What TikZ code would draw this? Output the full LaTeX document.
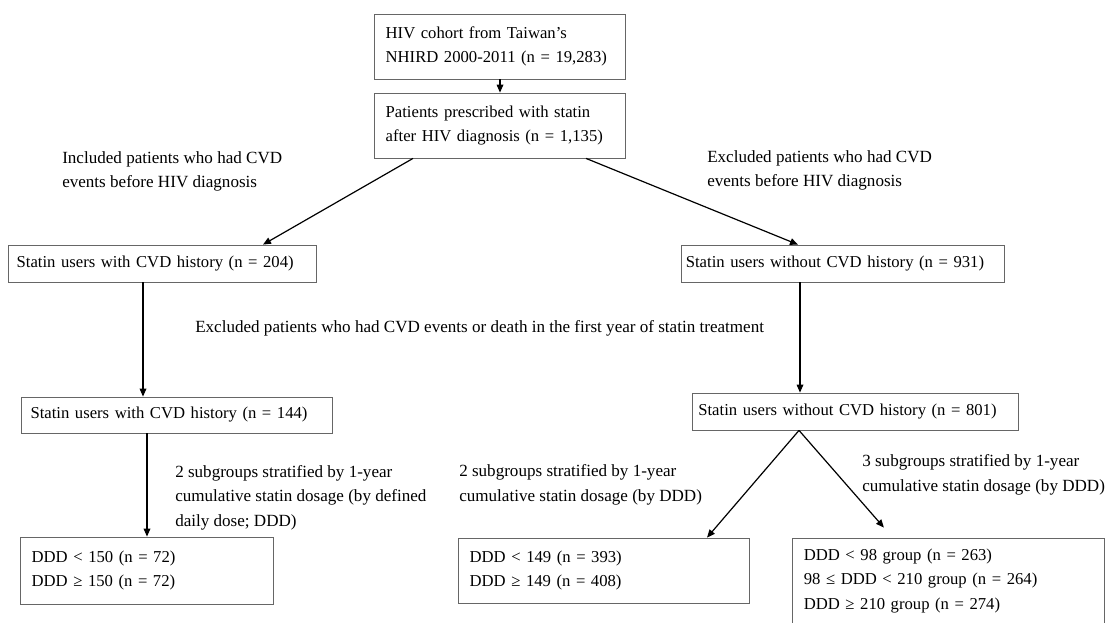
\documentclass[tikz,border=0pt]{standalone}
\usepackage{fontspec}
\setmainfont{Liberation Serif}
\usetikzlibrary{positioning,calc,arrows.meta}

\begin{document}
\begin{tikzpicture}[
  x=0.75pt, y=-0.75pt,
  every node/.style = {font=\fontsize{12.8}{18.4}\selectfont},
  box/.style = {draw=black!60, line width=0.6pt, align=left, inner xsep=8.25pt, inner ysep=0pt,
                font=\fontsize{12.5}{18.4}\selectfont},
  note/.style = {anchor=west, align=left, inner sep=0pt},
  arr/.style = {draw=black, line width=0.9pt, -{Triangle[length=6pt,width=5pt]}}
]
\useasboundingbox (0,0) rectangle (1109,622);

\node[box, text width=171.5pt, minimum height=48.75pt] (cohort) at (500,46.5)
    {HIV cohort from Taiwan’s\\NHIRD 2000-2011 (n = 19,283)};
\node[box, text width=171.5pt, minimum height=48.75pt] (statin) at (500,125.5)
    {Patients prescribed with statin\\after HIV diagnosis (n = 1,135)};
\node[box, text width=218pt, inner xsep=6.5pt, minimum height=27.75pt] (cvd) at (162,263.5)
    {Statin users with CVD history (n = 204)};
\node[box, text width=235pt, inner xsep=3.6pt, minimum height=27.75pt] (nocvd) at (842.5,263.5)
    {Statin users without CVD history (n = 931)};
\node[box, text width=219pt, inner xsep=7.1pt, minimum height=27pt] (cvdb) at (176.5,415)
    {Statin users with CVD history (n = 144)};
\node[box, text width=235pt, inner xsep=4.75pt, minimum height=27.75pt] (nocvdb) at (855,411.5)
    {Statin users without CVD history (n = 801)};
\node[box, text width=173pt, minimum height=50.25pt] (dddl) at (147,570.5)
    {DDD < 150 (n = 72)\\DDD ≥ 150 (n = 72)};
\node[box, text width=201.5pt, minimum height=48.75pt] (dddm) at (604,570.5)
    {DDD < 149 (n = 393)\\DDD ≥ 149 (n = 408)};
\node[box, text width=217pt, minimum height=64.5pt] (dddr) at (948.5,581)
    {DDD < 98 group (n = 263)\\98 ≤ DDD < 210 group (n = 264)\\DDD ≥ 210 group (n = 274)};

\node[note] (inc) at (62,171.5) {Included patients who had CVD\\events before HIV diagnosis};
\node[note] (exc) at (707,170.5) {Excluded patients who had CVD\\events before HIV diagnosis};
\node[note] (excdeath) at (195,328)
    {Excluded patients who had CVD events or death in the first year of statin treatment};
\node[note] (sub2a) at (175,497.5)
    {2 subgroups stratified by 1-year\\cumulative statin dosage (by defined\\daily dose; DDD)};
\node[note] (sub2b) at (459,485) {2 subgroups stratified by 1-year\\cumulative statin dosage (by DDD)};
\node[note] (sub3) at (862,475) {3 subgroups stratified by 1-year\\cumulative statin dosage (by DDD)};

\draw[arr] (cohort) -- (statin);
\draw[arr] ($(statin.south)+(-87,0)$) -- ($(cvd.north)+(101,0)$);
\draw[arr] ($(statin.south)+(86,0)$) -- ($(nocvd.north)+(-44.5,0)$);
\coordinate (c1) at ($(cvd.south)+(-19,0)$);
\draw[arr] (c1) -- (c1 |- cvdb.north);
\draw[arr] (cvdb.south -| dddl.north) -- (dddl.north);
\coordinate (c2) at ($(nocvd.south)+(-42.5,0)$);
\draw[arr] (c2) -- (c2 |- nocvdb.north);
\coordinate (c3) at ($(nocvdb.south)+(-56,0)$);
\draw[arr] (c3) -- ($(dddm.north)+(103,0)$);
\draw[arr, shorten >=10pt] (c3) -- ($(dddr.north)+(-55.8,0)$);
\end{tikzpicture}
\end{document}
